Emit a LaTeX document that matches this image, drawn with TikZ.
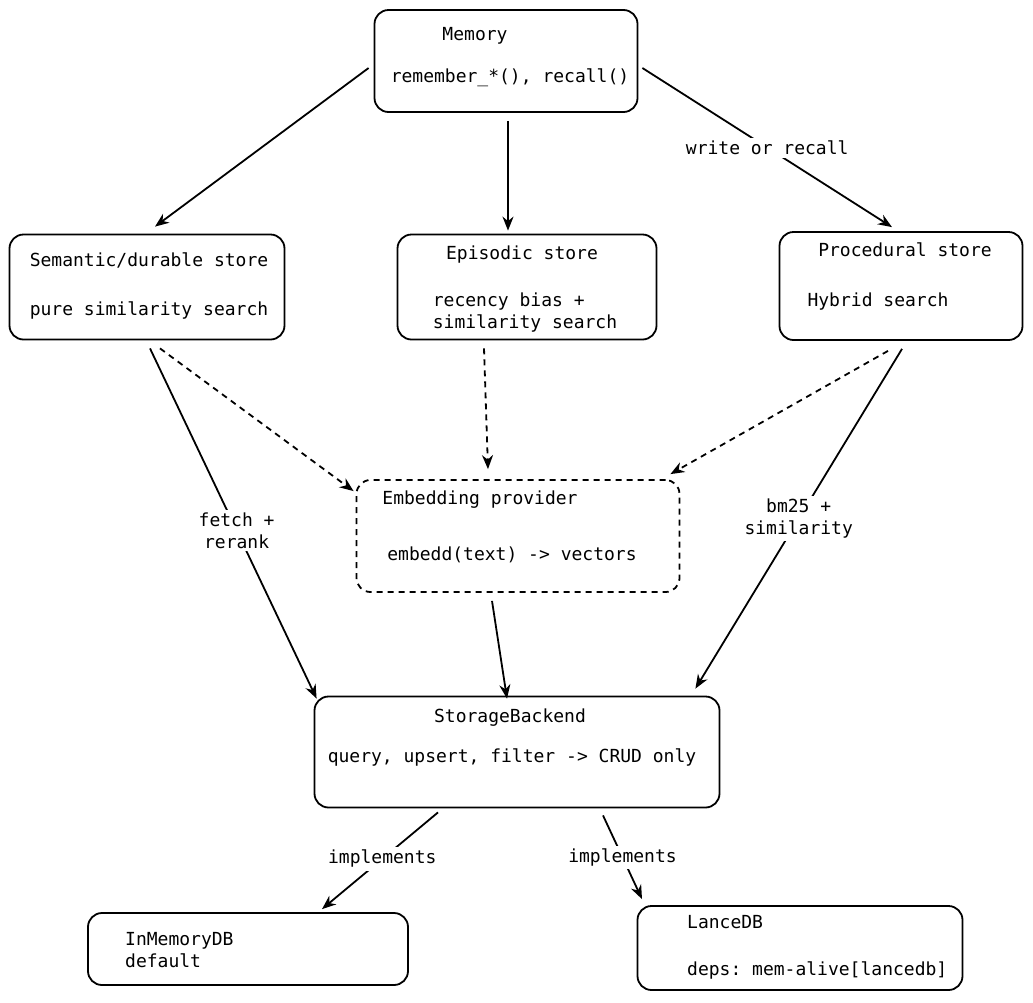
\documentclass[tikz,border=0pt]{standalone}
\usepackage{fontspec}
\setmonofont{DejaVu Sans Mono}
\usetikzlibrary{arrows.meta,calc}
\tikzset{
  box/.style={draw, line width=1.8pt, rounded corners=14pt, inner sep=0pt},
  dbox/.style={box, dash pattern=on 6pt off 5pt},
  txt/.style={font=\ttfamily\fontsize{18}{22}\selectfont, inner sep=1pt},
  lbl/.style={txt, fill=white, align=center, inner sep=3pt},
  arr/.style={line width=1.8pt, -{Stealth[length=14pt,width=11pt]}},
  darr/.style={arr, dash pattern=on 6pt off 5pt}
}
\begin{document}
\begin{tikzpicture}[x=1pt,y=-1pt]
        \useasboundingbox (0,0) rectangle (1033,1002);
        %BOXES
        \node[box, minimum width=263pt, minimum height=102pt] (mem) at (506,61) {};
        \node[box, minimum width=275pt, minimum height=105pt] (sem) at (147,287) {};
        \node[box, minimum width=259pt, minimum height=105pt] (epi) at (527,287) {};
        \node[box, minimum width=243pt, minimum height=108pt] (pro) at (901,286) {};
        \node[dbox, minimum width=323pt, minimum height=112pt] (emb) at (518,536) {};
        \node[box, minimum width=405pt, minimum height=111pt] (sto) at (517,752) {};
        \node[box, minimum width=320pt, minimum height=72pt] (inm) at (248,949) {};
        \node[box, minimum width=325pt, minimum height=84pt] (lan) at (800,948) {};
        %TEXTS
        \node[txt] (memt) at (475,36) {Memory};
        \node[txt] (mems) at (510,78) {remember\_*(), recall()};
        \node[txt] (semt) at (149,260) {Semantic/durable store};
        \node[txt] (sems) at (149,310) {pure similarity search};
        \node[txt] (epit) at (522,255) {Episodic store};
        \node[txt, align=left] (epis) at (525,313) {recency bias +\\similarity search};
        \node[txt] (prot) at (905,250) {Procedural store};
        \node[txt] (pros) at (878,302) {Hybrid search};
        \node[txt] (embt) at (480,500) {Embedding provider};
        \node[txt] (embs) at (512,555) {embedd(text) -> vectors};
        \node[txt] (stot) at (510,718) {StorageBackend};
        \node[txt] (stos) at (512,757) {query, upsert, filter -> CRUD only};
        \node[txt, align=left, anchor=west] (inmt) at (124,950) {InMemoryDB\\default};
        \node[txt, anchor=west] (lant) at (686,922) {LanceDB};
        \node[txt, anchor=west] (lans) at (686,970) {deps: mem-alive[lancedb]};
        %ARROWS
        \draw[arr] ($(mem.west)+(-5,7)$) -- ($(sem.north)+(8,-7)$);
        \draw[arr] ($(mem.south)+(2,8)$) -- ($(epi.north)+(-19,-3)$);
        \draw[arr] ($(mem.east)+(4,7)$) -- node[lbl, pos=0.5] {write or recall} ($(pro.north)+(-9,-4)$);
        \draw[arr] ($(sem.south)+(3,8)$) -- node[lbl, pos=0.52] {fetch +\\rerank} ($(sto.north west)+(3,3)$);
        \draw[darr] ($(sem.south)+(13,8)$) -- ($(emb.north west)+(-2,12)$);
        \draw[darr] ($(epi.south)+(-43,8)$) -- ($(emb.north)+(-30,-10)$);
        \draw[darr] ($(pro.south)+(-13,10)$) -- ($(emb.north east)+(-10,-5)$);
        \draw[arr] ($(pro.south)+(1,8)$) -- node[lbl, pos=0.5] {bm25 +\\similarity} ($(sto.north east)+(-25,-7)$);
        \draw[arr] ($(emb.south)+(-26,8)$) -- ($(sto.north)+(-10,3)$);
        \draw[arr] ($(sto.south)+(-79,4)$) -- node[lbl, pos=0.48] {implements} ($(inm.north)+(74,-3)$);
        \draw[arr] ($(sto.south)+(86,7)$) -- node[lbl, pos=0.5] {implements} ($(lan.north)+(-158,-6)$);
\end{tikzpicture}
\end{document}
